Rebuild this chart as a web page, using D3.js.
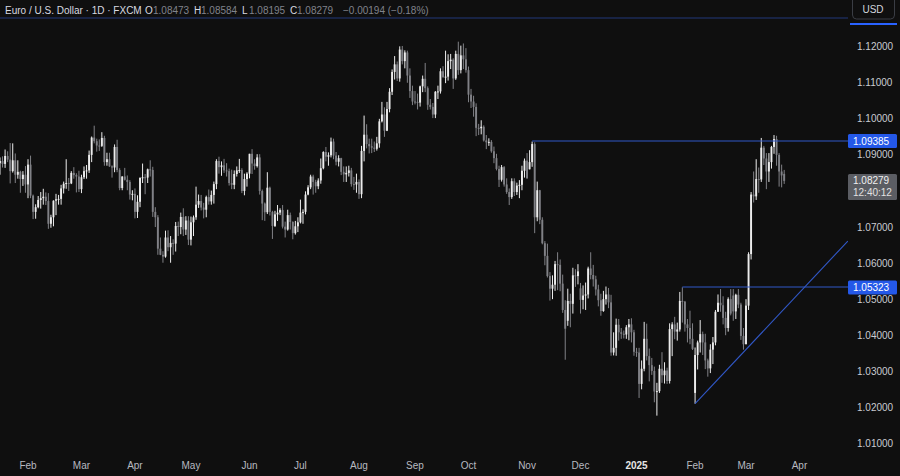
<!DOCTYPE html>
<html><head><meta charset="utf-8">
<script src="https://cdn.jsdelivr.net/npm/d3@7"></script>
<style>html,body{margin:0;padding:0;background:#0f0f0f;overflow:hidden}</style>
</head><body><svg id="c" width="900" height="476"></svg>
<script>
// ---- DATA (EUR/USD daily, FXCM) ----
const startDate = "2024-01-17";
const opens = [
// Jan 2024
1.0877,1.0883,1.0875,1.0897,1.0887,1.0855,1.0885,1.0845,1.0853,1.0833,1.0845,
// Feb
1.0818,1.0873,1.0787,1.0742,1.0755,1.0775,1.0780,1.0784,1.0772,1.0709,1.0727,1.0773,1.0777,1.0778,1.0807,1.0820,1.0822,1.0821,1.0850,1.0844,1.0840,
// Mar
1.0805,1.0838,1.0855,1.0857,1.0900,1.0948,1.0938,1.0926,1.0925,1.0947,1.0880,1.0888,1.0868,1.0865,1.0922,1.0858,1.0808,1.0840,1.0831,1.0825,1.0790,
// Apr
1.0792,1.0742,1.0770,1.0836,1.0838,1.0837,1.0860,1.0858,1.0742,1.0727,1.0640,1.0623,1.0618,1.0671,1.0644,1.0656,1.0654,1.0703,1.0700,1.0728,1.0693,1.0718,
// May
1.0665,1.0713,1.0727,1.0762,1.0772,1.0754,1.0748,1.0783,1.0771,1.0789,1.0819,1.0883,1.0866,1.0871,1.0857,1.0855,1.0822,1.0817,1.0847,1.0857,1.0858,1.0800,1.0833,
// Jun
1.0848,1.0903,1.0876,1.0869,1.0893,1.0800,1.0765,1.0741,1.0809,1.0742,1.0703,1.0735,1.0740,1.0747,1.0701,1.0693,1.0733,1.0714,1.0683,1.0702,
// Jul
1.0713,1.0740,1.0742,1.0790,1.0810,1.0840,1.0825,1.0813,1.0829,1.0863,1.0908,1.0895,1.0899,1.0937,1.0898,1.0881,1.0891,1.0853,1.0846,1.0850,1.0857,1.0819,1.0818,
// Aug
1.0825,1.0791,1.0911,1.0956,1.0930,1.0924,1.0920,1.0917,1.0932,1.0993,1.1012,1.0967,1.1027,1.1075,1.1130,1.1151,1.1112,1.1192,1.1160,1.1184,1.1120,1.1077,
// Sep
1.1048,1.1047,1.1045,1.1090,1.1111,1.1085,1.1039,1.1033,1.1012,1.1075,1.1076,1.1132,1.1116,1.1117,1.1160,1.1164,1.1112,1.1180,1.1135,1.1176,1.1165,
// Oct
1.1135,1.1067,1.1048,1.1033,1.0975,1.0974,1.0978,1.0940,1.0935,1.0936,1.0910,1.0891,1.0861,1.0831,1.0866,1.0818,1.0797,1.0783,1.0827,1.0797,1.0815,1.0817,1.0856,
// Nov
1.0884,1.0860,1.0880,1.0930,1.0727,1.0802,1.0720,1.0655,1.0620,1.0564,1.0529,1.0540,1.0597,1.0595,1.0543,1.0470,1.0440,1.0495,1.0487,1.0566,1.0564,
// Dec
1.0530,1.0498,1.0510,1.0513,1.0585,1.0567,1.0555,1.0527,1.0497,1.0467,1.0500,1.0513,1.0491,1.0352,1.0365,1.0429,1.0408,1.0404,1.0402,1.0422,1.0430,1.0408,
// Jan 2025
1.0354,1.0352,1.0265,1.0307,1.0390,1.0342,1.0317,1.0301,1.0244,1.0245,1.0307,1.0289,1.0302,1.0273,1.0417,1.0430,1.0410,1.0416,1.0495,1.0493,1.0430,1.0420,1.0390,
// Feb
1.0240,1.0345,1.0380,1.0403,1.0380,1.0330,1.0308,1.0360,1.0380,1.0465,1.0490,1.0483,1.0448,1.0420,1.0500,1.0510,1.0466,1.0512,1.0485,1.0398,
// Mar
1.0375,1.0482,1.0625,1.0790,1.0785,1.0833,1.0832,1.0920,1.0890,1.0854,1.0880,1.0922,1.0944,1.0900,1.0854,1.08473
];
const highs = [
1.0893,1.0896,1.0915,1.0910,1.0933,1.0932,1.0904,1.0885,1.0856,1.0855,1.0869,
1.0888,1.0898,1.0790,1.0763,1.0786,1.0797,1.0806,1.0796,1.0794,1.0734,1.0774,1.0792,1.0789,1.0817,1.0826,1.0888,1.0836,1.0855,1.0866,1.0849,1.0856,
1.0845,1.0868,1.0872,1.0912,1.0951,1.0981,1.0945,1.0943,1.0963,1.0953,1.0906,1.0906,1.0871,1.0929,1.0942,1.0863,1.0841,1.0864,1.0843,1.0830,1.0802,
1.0807,1.0788,1.0838,1.0876,1.0847,1.0862,1.0885,1.0867,1.0755,1.0733,1.0671,1.0633,1.0690,1.0691,1.0675,1.0666,1.0714,1.0715,1.0740,1.0752,1.0730,1.0730,
1.0729,1.0732,1.0812,1.0790,1.0789,1.0767,1.0787,1.0804,1.0801,1.0826,1.0888,1.0895,1.0882,1.0889,1.0877,1.0862,1.0859,1.0857,1.0868,1.0889,1.0863,1.0848,1.0852,
1.0903,1.0916,1.0888,1.0902,1.0902,1.0804,1.0768,1.0852,1.0812,1.0745,1.0745,1.0761,1.0752,1.0761,1.0715,1.0748,1.0740,1.0716,1.0717,1.0727,
1.0776,1.0749,1.0799,1.0816,1.0845,1.0845,1.0831,1.0835,1.0890,1.0910,1.0922,1.0907,1.0948,1.0945,1.0908,1.0899,1.0892,1.0868,1.0868,1.0870,1.0864,1.0839,1.0848,
1.0832,1.0925,1.1009,1.0985,1.0945,1.0945,1.0937,1.0950,1.1000,1.1047,1.1032,1.1047,1.1085,1.1137,1.1174,1.1159,1.1201,1.1202,1.1190,1.1189,1.1140,1.1092,
1.1077,1.1070,1.1092,1.1120,1.1155,1.1090,1.1055,1.1044,1.1077,1.1092,1.1140,1.1146,1.1189,1.1179,1.1180,1.1168,1.1189,1.1214,1.1203,1.1209,1.1196,
1.1145,1.1083,1.1064,1.1043,1.0986,1.0996,1.0982,1.0955,1.0946,1.0941,1.0923,1.0903,1.0870,1.0872,1.0869,1.0835,1.0807,1.0835,1.0835,1.0823,1.0830,1.0870,1.0890,
1.0905,1.0913,1.0937,1.0935,1.0826,1.0803,1.0727,1.0661,1.0654,1.0575,1.0566,1.0606,1.0630,1.0610,1.0568,1.0497,1.0529,1.0515,1.0587,1.0583,1.0597,
1.0545,1.0538,1.0546,1.0590,1.0630,1.0595,1.0565,1.0540,1.0515,1.0523,1.0535,1.0531,1.0512,1.0408,1.0446,1.0445,1.0420,1.0413,1.0428,1.0445,1.0447,1.0415,
1.0365,1.0365,1.0330,1.0437,1.0432,1.0363,1.0337,1.0313,1.0268,1.0318,1.0353,1.0325,1.0310,1.0433,1.0436,1.0451,1.0435,1.0520,1.0533,1.0495,1.0445,1.0468,1.0433,
1.0366,1.0385,1.0442,1.0410,1.0404,1.0335,1.0375,1.0395,1.0470,1.0513,1.0528,1.0508,1.0465,1.0505,1.0528,1.0528,1.0515,1.0528,1.0490,1.0420,
1.0500,1.0630,1.0797,1.0854,1.0888,1.0865,1.0947,1.0925,1.0905,1.0905,1.0925,1.0955,1.0953,1.0905,1.0873,1.08584
];
const lows = [
1.0845,1.0865,1.0864,1.0880,1.0821,1.0851,1.0822,1.0834,1.0795,1.0814,1.0795,
1.0780,1.0780,1.0722,1.0723,1.0752,1.0751,1.0762,1.0761,1.0695,1.0698,1.0702,1.0733,1.0762,1.0762,1.0793,1.0806,1.0800,1.0819,1.0834,1.0796,1.0797,
1.0794,1.0833,1.0834,1.0850,1.0880,1.0932,1.0909,1.0911,1.0922,1.0870,1.0870,1.0867,1.0837,1.0852,1.0852,1.0802,1.0802,1.0829,1.0802,1.0776,1.0774,
1.0724,1.0725,1.0755,1.0822,1.0791,1.0822,1.0840,1.0728,1.0700,1.0623,1.0622,1.0601,1.0615,1.0633,1.0601,1.0623,1.0632,1.0675,1.0680,1.0675,1.0678,1.0650,
1.0649,1.0675,1.0720,1.0753,1.0746,1.0724,1.0727,1.0762,1.0762,1.0765,1.0805,1.0848,1.0842,1.0850,1.0840,1.0815,1.0805,1.0805,1.0840,1.0850,1.0794,1.0788,1.0812,
1.0835,1.0847,1.0859,1.0865,1.0790,1.0719,1.0717,1.0736,1.0732,1.0667,1.0700,1.0717,1.0733,1.0696,1.0671,1.0690,1.0693,1.0666,1.0679,1.0686,
1.0710,1.0709,1.0735,1.0788,1.0805,1.0790,1.0795,1.0805,1.0820,1.0860,1.0882,1.0870,1.0893,1.0888,1.0871,1.0868,1.0844,1.0825,1.0825,1.0840,1.0812,1.0803,1.0795,
1.0778,1.0780,1.0882,1.0918,1.0904,1.0905,1.0908,1.0912,1.0920,1.0990,1.0950,1.0966,1.1018,1.1066,1.1109,1.1105,1.1103,1.1151,1.1140,1.1100,1.1058,1.1038,
1.1040,1.1026,1.1034,1.1074,1.1074,1.1025,1.1026,1.1002,1.1002,1.1055,1.1070,1.1113,1.1099,1.1106,1.1138,1.1083,1.1108,1.1122,1.1126,1.1138,1.1128,
1.1046,1.1030,1.1006,1.0952,1.0955,1.0957,1.0937,1.0916,1.0925,1.0906,1.0877,1.0857,1.0811,1.0826,1.0812,1.0792,1.0761,1.0778,1.0786,1.0789,1.0780,1.0802,1.0837,
1.0834,1.0860,1.0867,1.0683,1.0716,1.0708,1.0652,1.0594,1.0560,1.0496,1.0500,1.0523,1.0525,1.0522,1.0462,1.0332,1.0426,1.0422,1.0460,1.0534,1.0541,
1.0460,1.0472,1.0470,1.0502,1.0555,1.0535,1.0510,1.0480,1.0454,1.0465,1.0485,1.0475,1.0343,1.0344,1.0343,1.0385,1.0390,1.0391,1.0390,1.0386,1.0380,1.0343,
1.0340,1.0226,1.0250,1.0300,1.0330,1.0272,1.0290,1.0214,1.0177,1.0240,1.0268,1.0266,1.0265,1.0266,1.0342,1.0389,1.0385,1.0410,1.0435,1.0410,1.0380,1.0375,1.0359,
1.0210,1.0305,1.0352,1.0345,1.0306,1.0285,1.0295,1.0320,1.0372,1.0465,1.0465,1.0430,1.0400,1.0410,1.0455,1.0440,1.0445,1.0475,1.0387,1.0360,
1.0375,1.0470,1.0610,1.0768,1.0775,1.0795,1.0825,1.0872,1.0805,1.0825,1.0862,1.0903,1.0870,1.0812,1.0810,1.08195
];
const closes = [
1.0883,1.0875,1.0897,1.0887,1.0855,1.0885,1.0845,1.0853,1.0833,1.0845,1.0818,
1.0873,1.0787,1.0742,1.0755,1.0775,1.0780,1.0784,1.0772,1.0709,1.0727,1.0773,1.0777,1.0778,1.0807,1.0820,1.0822,1.0821,1.0850,1.0844,1.0840,1.0805,
1.0838,1.0855,1.0857,1.0900,1.0948,1.0938,1.0926,1.0925,1.0947,1.0880,1.0888,1.0868,1.0865,1.0922,1.0858,1.0808,1.0840,1.0831,1.0825,1.0790,1.0792,
1.0742,1.0770,1.0836,1.0838,1.0837,1.0860,1.0858,1.0742,1.0727,1.0640,1.0623,1.0618,1.0671,1.0644,1.0656,1.0654,1.0703,1.0700,1.0728,1.0693,1.0718,1.0665,
1.0713,1.0727,1.0762,1.0772,1.0754,1.0748,1.0783,1.0771,1.0789,1.0819,1.0883,1.0866,1.0871,1.0857,1.0855,1.0822,1.0817,1.0847,1.0857,1.0858,1.0800,1.0833,1.0848,
1.0903,1.0876,1.0869,1.0893,1.0800,1.0765,1.0741,1.0809,1.0742,1.0703,1.0735,1.0740,1.0747,1.0701,1.0693,1.0733,1.0714,1.0683,1.0702,1.0713,
1.0740,1.0742,1.0790,1.0810,1.0840,1.0825,1.0813,1.0829,1.0863,1.0908,1.0895,1.0899,1.0937,1.0898,1.0881,1.0891,1.0853,1.0846,1.0850,1.0857,1.0819,1.0818,1.0825,
1.0791,1.0911,1.0956,1.0930,1.0924,1.0920,1.0917,1.0932,1.0993,1.1012,1.0967,1.1027,1.1075,1.1130,1.1151,1.1112,1.1192,1.1160,1.1184,1.1120,1.1077,1.1048,
1.1047,1.1045,1.1090,1.1111,1.1085,1.1039,1.1033,1.1012,1.1075,1.1076,1.1132,1.1116,1.1117,1.1160,1.1164,1.1112,1.1180,1.1135,1.1176,1.1165,1.1135,
1.1067,1.1048,1.1033,1.0975,1.0974,1.0978,1.0940,1.0935,1.0936,1.0910,1.0891,1.0861,1.0831,1.0866,1.0818,1.0797,1.0783,1.0827,1.0797,1.0815,1.0817,1.0856,1.0884,
1.0835,1.0880,1.0930,1.0727,1.0802,1.0720,1.0655,1.0620,1.0564,1.0529,1.0540,1.0597,1.0595,1.0543,1.0470,1.0418,1.0495,1.0487,1.0566,1.0564,1.0577,
1.0498,1.0510,1.0513,1.0585,1.0567,1.0555,1.0527,1.0497,1.0467,1.0500,1.0513,1.0491,1.0352,1.0365,1.0429,1.0408,1.0404,1.0402,1.0422,1.0430,1.0408,1.0354,
1.0352,1.0265,1.0307,1.0390,1.0342,1.0317,1.0301,1.0244,1.0245,1.0307,1.0289,1.0302,1.0273,1.0417,1.0430,1.0410,1.0416,1.0495,1.0493,1.0430,1.0420,1.0390,1.0362,
1.0345,1.0380,1.0403,1.0380,1.0330,1.0308,1.0360,1.0380,1.0465,1.0490,1.0483,1.0448,1.0420,1.0500,1.0460,1.0466,1.0512,1.0485,1.0398,1.0375,
1.0482,1.0625,1.0790,1.0785,1.0833,1.0832,1.0920,1.0890,1.0854,1.0880,1.0922,1.0944,1.0900,1.0854,1.0843,1.08279
];
const monthLabels = ["Feb","Mar","Apr","May","Jun","Jul","Aug","Sep","Oct","Nov","Dec","2025","Feb","Mar","Apr"];
const monthStarts = ["2024-02-01","2024-03-01","2024-04-01","2024-05-01","2024-06-03","2024-07-01","2024-08-01","2024-09-02","2024-10-01","2024-11-01","2024-12-02","2025-01-01","2025-02-03","2025-03-03","2025-04-01"];
const priceTicks = [1.01,1.02,1.03,1.04,1.05,1.06,1.07,1.08,1.09,1.10,1.11,1.12];
const levelPrices = [1.09385, 1.05323];
const levelStarts = ["2024-11-05", "2025-01-27"];
const trendDates = ["2025-02-03", "2025-04-28"];
const trendPrices = [1.0210, 1.0661];
const headerTitle = "Euro / U.S. Dollar · 1D · FXCM";
const headerChange = "−0.00194 (−0.18%)";
const countdown = "12:40:12";

// ---- CALENDAR (weekday bars) ----
const cal = [];
{
  const p = startDate.split("-").map(Number);
  let d = new Date(Date.UTC(p[0], p[1]-1, p[2]));
  const end = Date.UTC(2025, 5, 30);
  while (d.getTime() <= end) {
    const w = d.getUTCDay();
    if (w !== 0 && w !== 6) cal.push(d.toISOString().slice(0,10));
    d = new Date(d.getTime() + 86400000);
  }
}
const idx = s => cal.indexOf(s);
const bars = closes.map((c,i) => ({i, o:opens[i], h:highs[i], l:lows[i], c}));

// ---- SCALES ----
const W = 900, H = 476, plotR = 848, plotT = 19, plotB = 455;
const x = d3.scaleLinear().domain([idx("2024-02-01"), idx("2025-03-03")]).range([28, 746]);
const y = d3.scaleLinear().domain([1.01, 1.12]).range([443.4, 46.7]);

const svg = d3.select("#c");
const font = "'Liberation Sans', Arial, sans-serif";
svg.append("rect").attr("width", W).attr("height", H).attr("fill", "#0f0f0f");

svg.append("defs").append("clipPath").attr("id","plot")
  .append("rect").attr("x",0).attr("y",plotT).attr("width",plotR).attr("height",plotB-plotT);

const g = svg.append("g").attr("clip-path","url(#plot)");

// candles
const up = "#ececec", dn = "#808186";
const cg = g.append("g");
cg.selectAll("rect.w").data(bars).join("rect").attr("class","w")
  .attr("x", d => x(d.i) - 0.5).attr("width", 1)
  .attr("y", d => y(d.h)).attr("height", d => Math.max(1, y(d.l) - y(d.h)))
  .attr("fill", d => d.c >= d.o ? up : dn);
cg.selectAll("rect.b").data(bars).join("rect").attr("class","b")
  .attr("x", d => x(d.i) - 0.95).attr("width", 1.9)
  .attr("y", d => y(Math.max(d.o, d.c)))
  .attr("height", d => Math.max(1, Math.abs(y(d.o) - y(d.c))))
  .attr("fill", d => d.c >= d.o ? up : dn);

// levels
const lineCol = "#3158c8";
levelPrices.forEach((p, k) => {
  g.append("line").attr("x1", x(idx(levelStarts[k]))).attr("x2", plotR)
    .attr("y1", Math.round(y(p))).attr("y2", Math.round(y(p)))
    .attr("stroke", lineCol).attr("stroke-width", 1.2);
});
// trendline
g.append("line")
  .attr("x1", x(idx(trendDates[0]))).attr("y1", y(trendPrices[0]))
  .attr("x2", x(idx(trendDates[1]))).attr("y2", y(trendPrices[1]))
  .attr("stroke", lineCol).attr("stroke-width", 1.1);

// top separator
svg.append("line").attr("x1",0).attr("x2",plotR).attr("y1",18).attr("y2",18)
  .attr("stroke","#22387a").attr("stroke-width",1.2);

// ---- RIGHT PRICE AXIS ----
const boxes = [];
levelPrices.forEach(p => boxes.push({y0: y(p)-7, y1: y(p)+7}));
const lastY = y(closes[closes.length-1]);
boxes.push({y0: lastY-7, y1: lastY+19});
const axisG = svg.append("g");
priceTicks.forEach(t => {
  const ty = y(t);
  if (boxes.some(b => ty >= b.y0 && ty <= b.y1)) return;
  axisG.append("text").attr("x", 857).attr("y", ty).attr("dy","0.35em")
    .attr("fill","#c9cbd1").attr("font-family",font).attr("font-size","10px")
    .text(t.toFixed(5));
});
levelPrices.forEach(p => {
  axisG.append("rect").attr("x",848).attr("y",y(p)-7).attr("width",49).attr("height",14)
    .attr("rx",1.5).attr("fill","#2458e8");
  axisG.append("text").attr("x", 853).attr("y", y(p)).attr("dy","0.35em")
    .attr("fill","#ffffff").attr("font-family",font).attr("font-size","10px")
    .text(p.toFixed(5));
});
axisG.append("rect").attr("x",848).attr("y",lastY-7).attr("width",49).attr("height",26)
  .attr("rx",1.5).attr("fill","#5b5d63");
axisG.append("text").attr("x",853).attr("y",lastY).attr("dy","0.35em")
  .attr("fill","#f0f0f0").attr("font-family",font).attr("font-size","10px")
  .text(closes[closes.length-1].toFixed(5));
axisG.append("text").attr("x",853).attr("y",lastY+12).attr("dy","0.35em")
  .attr("fill","#e0e0e0").attr("font-family",font).attr("font-size","10px")
  .text(countdown);

// USD button
svg.append("rect").attr("x",852.5).attr("y",-4).attr("width",42).attr("height",23).attr("rx",4)
  .attr("fill","#0f0f0f").attr("stroke","#3a3d44");
svg.append("text").attr("x",873).attr("y",9.5).attr("dy","0.35em").attr("text-anchor","middle")
  .attr("fill","#d1d4dc").attr("font-family",font).attr("font-size","10px").text("USD");
svg.append("line").attr("x1",850).attr("x2",897).attr("y1",24).attr("y2",24)
  .attr("stroke","#2962ff").attr("stroke-width",2);

// ---- TIME AXIS ----
monthLabels.forEach((m, k) => {
  svg.append("text").attr("x", x(idx(monthStarts[k]))).attr("y", 465).attr("dy","0.35em")
    .attr("text-anchor","middle").attr("font-family",font).attr("font-size","10px")
    .attr("fill", m === "2025" ? "#e6e6e6" : "#b8bac0")
    .attr("font-weight", m === "2025" ? "bold" : "normal").text(m);
});

// ---- HEADER ----
const hdr = svg.append("g").attr("font-family",font).attr("font-size","10px");
const ht = (tx, xx, col) => hdr.append("text").attr("x",xx).attr("y",10).attr("dy","0.35em").attr("fill",col).text(tx);
const hw = "#d8dae0", hg = "#80838c";
ht(headerTitle, 5, hw);
ht("O", 145, hw); ht(opens[opens.length-1].toFixed(5), 153, hg);
ht("H", 194, hw); ht(highs[highs.length-1].toFixed(5), 201, hg);
ht("L", 242, hw); ht(lows[lows.length-1].toFixed(5), 249, hg);
ht("C", 290, hw); ht(closes[closes.length-1].toFixed(5), 297, hg);
ht(headerChange, 343, hg);
</script></body></html>
